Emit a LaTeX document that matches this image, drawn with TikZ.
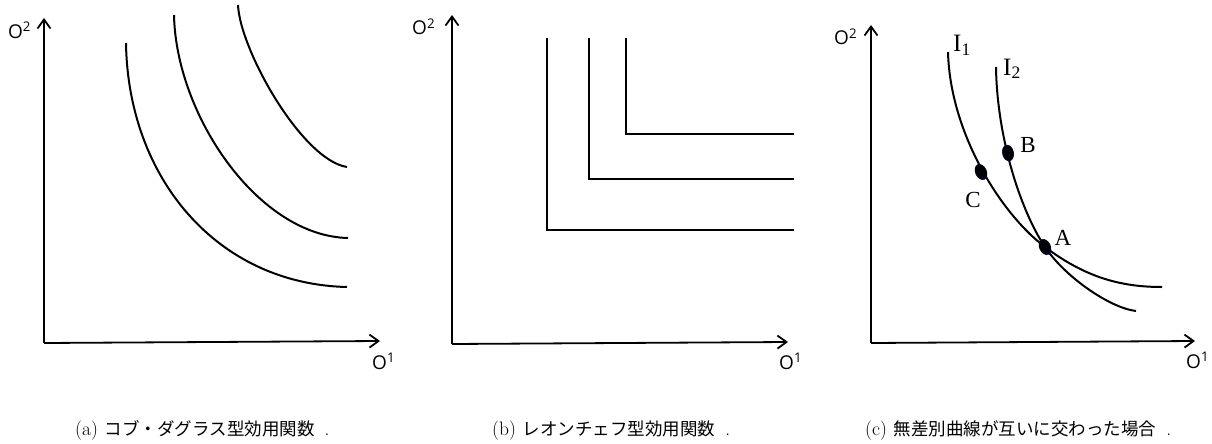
\documentclass[tikz,border=0pt]{standalone}
\usepackage{fontspec}
\newfontfamily\jp{Noto Sans CJK JP}
\newfontfamily\axfont{Open Sans}
\newfontfamily\tms{Liberation Serif}
\usetikzlibrary{arrows.meta,shapes.geometric}
\tikzset{
  axis/.style={line width=1.8pt, -{Straight Barb[length=9pt,width=13pt,line width=1.8pt]}},
  curve/.style={line width=2pt},
  axlabel/.style={font=\axfont\fontsize{19}{21}\selectfont, inner sep=0pt, anchor=base west},
  ptlabel/.style={font=\tms\fontsize{23}{26}\selectfont, inner sep=0pt},
  ilabel/.style={font=\tms\fontsize{25}{28}\selectfont, inner sep=0pt, anchor=base west},
  dot/.style={ellipse, fill=black, draw=black!70!blue, line width=0.6pt, minimum width=11pt, minimum height=16pt, inner sep=0pt},
  captext/.style={font=\fontsize{19.5}{22}\selectfont, inner sep=0pt, anchor=base west}
}
\newcommand{\jpcap}[1]{{\jp\fontsize{17.5}{20}\selectfont #1}}
\begin{document}
\begin{tikzpicture}[x=1pt,y=-1pt]
\useasboundingbox[fill=white] (0,0) rectangle (1212,444);
% ---------- panel (a)
\coordinate (aO) at (44,343);
\coordinate (aY) at (44,18);
\coordinate (aX) at (380,341);
\draw[axis] (aO) -- (aY);
\draw[axis] (aO) -- (aX);
\node[axlabel] (aL2) at (8,38) {O\textsuperscript{2}};
\node[axlabel] (aL1) at (372,369) {O\textsuperscript{1}};
\draw[curve] (126,43) .. controls (128,178) and (217,284) .. (347,287);
\draw[curve] (174,15) .. controls (176,115) and (258,236) .. (348,238);
\draw[curve] (238,5) .. controls (240,50) and (302,160) .. (347,167);
\node[captext] (capa) at (75,435) {(a)\hspace{7pt}\jpcap{コブ・ダグラス型効用関数}\hspace{10pt}.};
% ---------- panel (b)
\coordinate (bO) at (452,344);
\coordinate (bY) at (452,15);
\coordinate (bX) at (788,342);
\draw[axis] (bO) -- (bY);
\draw[axis] (bO) -- (bX);
\node[axlabel] (bL2) at (412,35) {O\textsuperscript{2}};
\node[axlabel] (bL1) at (779,369) {O\textsuperscript{1}};
\draw[curve] (547,38) -- (547,230) -- (794,230);
\draw[curve] (589,38) -- (589,179) -- (794,179);
\draw[curve] (626,38) -- (626,134) -- (794,134);
\node[captext] (capb) at (492,435) {(b)\hspace{7pt}\jpcap{レオンチェフ型効用関数}\hspace{10pt}.};
% ---------- panel (c)
\coordinate (cO) at (871,343);
\coordinate (cY) at (871,25);
\coordinate (cX) at (1195,341);
\draw[axis] (cO) -- (cY);
\draw[axis] (cO) -- (cX);
\node[axlabel] (cL2) at (834,45) {O\textsuperscript{2}};
\node[axlabel] (cL1) at (1186,368) {O\textsuperscript{1}};
\coordinate (Apt) at (1045,247);
\draw[curve] (948,52) .. controls (950,132) and (1000,213) .. (Apt)
             .. controls (1085,277) and (1120,287) .. (1162,287);
\draw[curve] (996,67) .. controls (997,137) and (1020,209.5) .. (Apt)
             .. controls (1065,277) and (1110,308) .. (1136,311);
\node[dot, rotate=25] (A) at (Apt) {};
\node[dot, rotate=12] (B) at (1008,153) {};
\node[dot, rotate=25] (C) at (981,172) {};
\node[ptlabel] (Alab) at (1063,238) {A};
\node[ptlabel] (Blab) at (1028,145) {B};
\node[ptlabel] (Clab) at (973,200) {C};
\node[ilabel] (I1) at (953,52) {I\textsubscript{1}};
\node[ilabel] (I2) at (1003,75) {I\textsubscript{2}};
\node[captext] (capc) at (865,435) {(c)\hspace{7pt}\jpcap{無差別曲線が互いに交わった場合}\hspace{10pt}.};
\end{tikzpicture}
\end{document}
